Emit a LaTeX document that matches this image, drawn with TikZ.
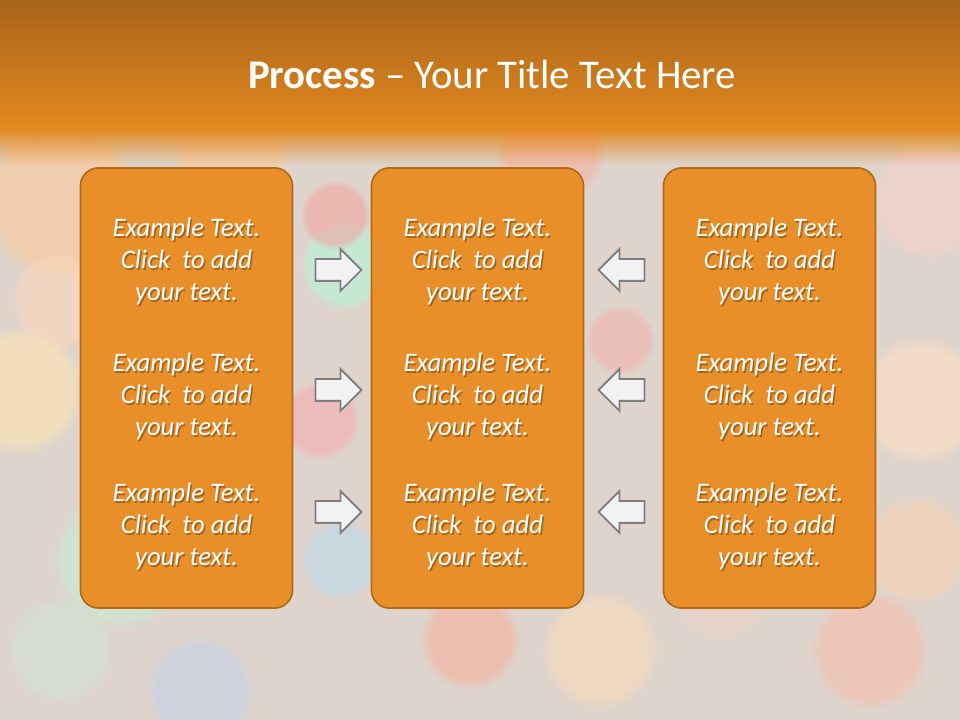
\documentclass[tikz,border=0pt]{standalone}
\usepackage{fontspec}
\setmainfont{Carlito}
\usetikzlibrary{shapes.arrows, fadings, positioning}
\definecolor{oranyeps}{RGB}{233,143,42}
\definecolor{coklatps}{RGB}{176,106,26}
\definecolor{atasps}{RGB}{168,100,26}
\definecolor{bawahps}{RGB}{226,136,30}
\definecolor{latarps}{RGB}{222,212,204}
\definecolor{panahps}{RGB}{242,242,242}
\definecolor{garisps}{RGB}{127,127,127}

\begin{document}
\begin{tikzpicture}[x=0.025cm, y=0.025cm,
    kotak/.style={draw=coklatps, line width=1.2pt, fill=oranyeps, rounded corners=0.45cm,
        minimum width=5.3cm, minimum height=11cm},
    teks/.style={text=white, align=center, font=\fontsize{19}{22.7}\selectfont\itshape},
    bayang/.style={teks, text=black, text opacity=0.3},
    panah/.style={single arrow, draw=garisps, line width=1.3pt, fill=panahps,
        minimum height=1.15cm, minimum width=1cm, inner sep=0.25cm,
        single arrow head extend=0.25cm, single arrow tip angle=90}]
        \useasboundingbox (0,0) rectangle (960,720);
        % latar belakang
        \fill[latarps] (0,0) rectangle (960,720);
        \foreach \x/\y/\r/\clr in {
            60/520/80/{255,200,150}, 230/560/60/{250,205,165}, 20/330/65/{255,232,175},
            120/160/70/{200,238,212}, 345/455/45/{175,250,220}, 335/505/35/{245,160,155},
            320/300/40/{248,170,178}, 340/160/40/{185,218,240}, 550/570/55/{250,175,160},
            620/380/35/{245,172,170}, 930/520/60/{250,210,205}, 920/320/65/{255,225,195},
            915/170/55/{250,210,178}, 470/80/50/{248,175,155}, 600/70/60/{250,220,185},
            870/70/60/{248,190,170}, 200/30/55/{195,210,235}, 60/70/55/{210,228,214},
            720/130/50/{238,210,196}, 430/300/40/{236,196,204}, 60/420/50/{255,215,185}}
        {
            \definecolor{bokeh}{RGB}{\clr}
            \fill[bokeh, opacity=0.55, path fading=circle with fuzzy edge 20 percent] (\x,\y) circle (\r);
        }
        % pita judul
        \shade[top color=atasps, bottom color=bawahps] (0,592) rectangle (960,720);
        \fill[bawahps, path fading=south] (0,555) rectangle (960,592);
        \node[text=white, font=\fontsize{29}{34}\selectfont] (judul) at (492,645)
            {\textbf{Process} – Your Title Text Here};
        % kotak
        \foreach \k/\x in {1/186.5, 2/477.5, 3/769.5}
        {
            \node[kotak] (kotak\k) at (\x,332) {};
            \foreach \b/\y in {1/459, 2/324, 3/194}
            {
                \node[bayang] (bayang\k\b) at (\x+1.5,\y-2) {Example Text.\\Click~ to add\\your text.};
                \node[teks] (teks\k\b) at (\x,\y) {Example Text.\\Click~ to add\\your text.};
            }
        }
        % panah
        \foreach \b/\y in {1/450, 2/330, 3/208}
        {
            \node[panah] (kanan\b) at (333,\y) {};
            \node[panah, shape border rotate=180] (kiri\b) at (627,\y) {};
        }
    \end{tikzpicture}
\end{document}
